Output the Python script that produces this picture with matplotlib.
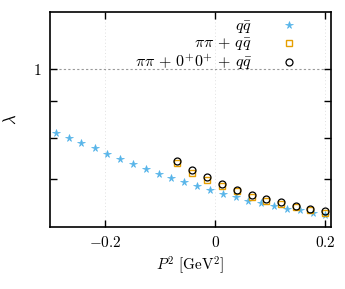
import numpy as np
import matplotlib
matplotlib.use('Agg')
import matplotlib.pyplot as plt
from matplotlib.ticker import FixedLocator, NullLocator

plt.rcParams['mathtext.fontset'] = 'cm'
plt.rcParams['font.family'] = ['DejaVu Serif']

# q qbar
x_qq = [-0.290, -0.266, -0.243, -0.218, -0.196, -0.173, -0.150, -0.126, -0.103, -0.080,
        -0.057, -0.033, -0.010, 0.014, 0.037, 0.060, 0.084, 0.107, 0.130, 0.154, 0.177, 0.200]
y_qq = [0.813, 0.800, 0.786, 0.773, 0.760, 0.747, 0.735, 0.724, 0.713, 0.703,
        0.693, 0.684, 0.677, 0.668, 0.661, 0.653, 0.648, 0.642, 0.636, 0.633, 0.628, 0.624]

# pi pi + q qbar  and  pi pi + 0+0+ + q qbar
x_pp = [-0.069, -0.042, -0.015, 0.012, 0.039, 0.066, 0.093, 0.120, 0.146, 0.173, 0.200]
y_ppqq = [0.737, 0.715, 0.698, 0.684, 0.673, 0.662, 0.653, 0.647, 0.640, 0.634, 0.628]
y_full = [0.743, 0.721, 0.704, 0.689, 0.677, 0.666, 0.657, 0.650, 0.642, 0.636, 0.631]

xticks = [-0.2, 0, 0.2]
xticklabels = [r'$-0.2$', r'$0$', r'$0.2$']
yticks = [0.7, 0.8, 0.9, 1.0]
yticklabels = ['', '', '', r'$1$']

fig = plt.figure(figsize=(3.45, 2.89), dpi=100)
ax = fig.add_axes([0.145, 0.2145, 0.814, 0.7435])

ax.axhline(1.0, color='#999999', lw=0.8, ls=(0, (2, 2)), zorder=1)
for xt in xticks:
    ax.axvline(xt, color='#e0e0e0', lw=0.7, ls=(0, (1, 2.5)), zorder=0)

ax.plot(x_qq, y_qq, ls='none', marker='*', ms=5.5, color='#56B4E9', mew=0.5,
        label=r'$q\bar{q}$', zorder=3)
ax.plot(x_pp, y_ppqq, ls='none', marker='s', ms=5, mfc='none', mec='#E69F00', mew=1.0,
        label=r'$\pi\pi\,+\,q\bar{q}$', zorder=4)
ax.plot(x_pp, y_full, ls='none', marker='o', ms=5, mfc='none', mec='black', mew=0.9,
        label=r'$\pi\pi\,+\,0^{+}0^{+}\,+\,q\bar{q}$', zorder=5)

ax.set_yscale('log')
ax.set_xlim(-0.3, 0.21)
ax.set_ylim(0.6, 1.2)
ax.xaxis.set_major_locator(FixedLocator(xticks))
ax.set_xticklabels(xticklabels)
ax.yaxis.set_major_locator(FixedLocator(yticks))
ax.yaxis.set_minor_locator(NullLocator())
ax.set_yticklabels(yticklabels)
ax.tick_params(which='both', direction='in', top=True, right=True, length=5, width=1.0,
               labelsize=11, pad=6)
for s in ax.spines.values():
    s.set_linewidth(1.2)

ax.set_xlabel(r'$P^2\ [\mathrm{GeV}^2]$', fontsize=11, labelpad=3)
ax.set_ylabel(r'$\lambda$', fontsize=12, rotation=90, labelpad=10)

leg = ax.legend(loc='upper right', markerfirst=False, frameon=False, fontsize=11.5,
                handlelength=1.55, handletextpad=1.55, labelspacing=-0.02,
                bbox_to_anchor=(0.895, 0.975), borderaxespad=0, borderpad=0)

fig.savefig('out.png', dpi=100)
